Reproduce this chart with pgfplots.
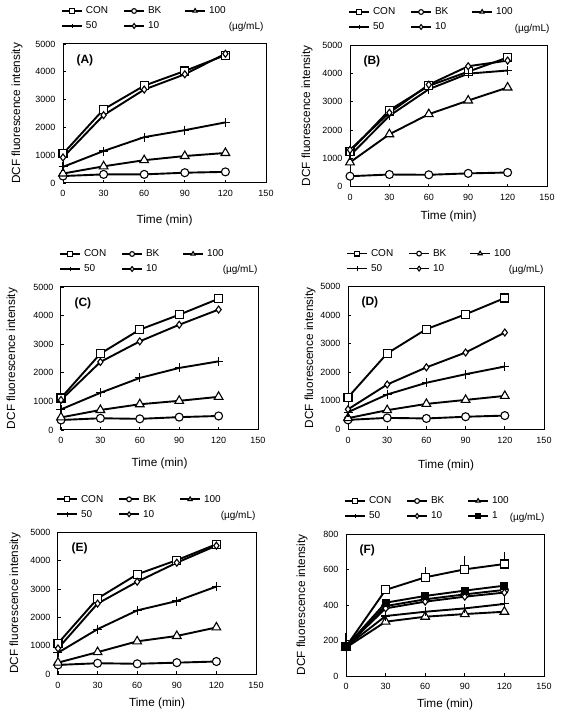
\documentclass[border=0pt]{standalone}
\usepackage{pgfplots}
\pgfplotsset{compat=1.18}
\usepackage{fontspec}
\setmainfont{Liberation Sans}

\pgfplotsset{
  panel/.style={
    scale only axis,
    anchor=south west,
    xmin=0, xmax=150, xtick={0,30,...,150},
    ymin=0,
    axis line style={line width=1pt},
    tick style={line width=0.9pt, black},
    major tick length=3pt,
    xtick pos=left, ytick pos=left,
    tick label style={font=\fontsize{9}{10.5}\selectfont},
    label style={font=\fontsize{11.8}{13.5}\selectfont},
    /pgf/number format/assume math mode=true,
    /pgf/number format/1000 sep={},
    scaled y ticks=false,
    yticklabel style={xshift=-4pt},
    xticklabel style={yshift=-4pt},
    xlabel={Time (min)},
    ylabel={DCF fluorescence intensity},
    clip=false,
  },
  % one legend key: an empty hidden axis whose legend sits at the given point
  legkey/.style={
    hide axis, scale only axis, width=1pt, height=1pt, anchor=south west,
    xmin=0, xmax=1, ymin=0, ymax=1,
    legend columns=1,
    legend style={at={(0,0)}, anchor=west, draw=none, fill=none,
      inner sep=0pt, column sep=0pt, font=\fontsize{10}{12}\selectfont},
    legend image code/.code={\draw[mark repeat=2, mark phase=2, ##1]
      plot coordinates {(0pt,0pt) (10pt,0pt) (20pt,0pt)};},
    legend image post style={mark size=2.4pt, line width=1.8pt},
  },
  big/.style={ymax=5000, ytick={0,1000,...,5000}},
  labshift/.style 2 args={
    xlabel style={at={([yshift=-#1]axis description cs:0.5,0)}, anchor=center},
    ylabel style={at={([xshift=-#2]axis description cs:0,0.5)}, anchor=center},
  },
  con/.style={black, line width=1.9pt, mark=square*, mark size=4pt,
    mark options={solid, fill=white, line width=1.1pt}},
  bk/.style={black, line width=1.9pt, mark=*, mark size=4pt,
    mark options={solid, fill=white, line width=1.1pt}},
  hund/.style={black, line width=1.9pt, mark=triangle*, mark size=5pt,
    mark options={solid, fill=white, line width=1.1pt}},
  fifty/.style={black, line width=1.9pt, mark=+, mark size=4.5pt,
    mark options={solid, line width=1.1pt}},
  ten/.style={black, line width=1.9pt, mark=diamond*, mark size=3.5pt,
    mark options={solid, fill=white, line width=1.1pt}},
  one/.style={black, line width=1.9pt, mark=square*, mark size=3.5pt,
    mark options={solid, fill=black, line width=1.1pt}},
}

% #1,#2: left end and vertical middle of the key; #3: series style; #4: text
\newcommand{\legkey}[4]{%
  \begin{axis}[legkey, at={({#1},{#2})}]
    \addlegendimage{#3}
    \addlegendentry{\hspace*{1pt}\rule[-2pt]{0pt}{9pt}#4}
  \end{axis}}
% the five keys above a panel whose box has left edge #1 and top edge #2
\newcommand{\legendset}[2]{%
  \legkey{#1-2pt}{#2+33pt}{con}{CON}
  \legkey{#1+60pt}{#2+33pt}{bk}{BK}
  \legkey{#1+121pt}{#2+33pt}{hund}{100}
  \legkey{#1-2pt}{#2+18pt}{fifty}{50}
  \legkey{#1+60pt}{#2+18pt}{ten}{10}}
\newcommand{\panellabel}[1]{\node[anchor=west, font=\bfseries\fontsize{12}{14}\selectfont]
  at ([xshift=10pt,yshift=-16pt]axis description cs:0,1) {#1};}
\newcommand{\unitlabel}[1][3pt]{\node[anchor=base east, font=\fontsize{10}{12}\selectfont]
  at ([xshift=#1,yshift=14pt]axis description cs:1,1) {(µg/mL)};}

\begin{document}
\begin{tikzpicture}
\path[use as bounding box] (0,0) rectangle (565pt,710pt);

% (A)
\begin{axis}[panel, big, at={(63pt,527pt)}, width=203pt, height=139pt, labshift={37pt}{46pt}]
\addplot[con]   coordinates {(0,1050)(30,2650)(60,3500)(90,4030)(120,4600)};
\addplot[bk]    coordinates {(0,250)(30,310)(60,310)(90,370)(120,400)};
\addplot[hund]  coordinates {(0,340)(30,600)(60,820)(90,970)(120,1080)};
\addplot[fifty] coordinates {(0,580)(30,1150)(60,1650)(90,1900)(120,2180)};
\addplot[ten]   coordinates {(0,920)(30,2440)(60,3360)(90,3910)(120,4650)};
\panellabel{(A)}
\unitlabel[1pt]
\end{axis}
\legendset{63pt}{666pt}

% (B)
\begin{axis}[panel, big, at={(350pt,523.3pt)}, width=197pt, height=141.7pt, labshift={30pt}{43pt}]
\addplot[con]   coordinates {(0,1250)(30,2700)(60,3560)(90,4060)(120,4560)};
\addplot[bk]    coordinates {(0,370)(30,430)(60,420)(90,470)(120,500)};
\addplot[hund]  coordinates {(0,860)(30,1850)(60,2560)(90,3040)(120,3500)};
\addplot[fifty] coordinates {(0,1100)(30,2500)(60,3440)(90,3990)(120,4100)};
\addplot[ten]   coordinates {(0,1300)(30,2610)(60,3600)(90,4250)(120,4450)};
\panellabel{(B)}
\unitlabel[6pt]
\end{axis}
\legendset{350pt}{665pt}

% (C)
\begin{axis}[panel, big, at={(61pt,280pt)}, width=197pt, height=143pt, labshift={33pt}{49pt}]
\addplot[con]   coordinates {(0,1120)(30,2670)(60,3510)(90,4030)(120,4590)};
\addplot[bk]    coordinates {(0,350)(30,410)(60,390)(90,450)(120,490)};
\addplot[hund]  coordinates {(0,440)(30,700)(60,900)(90,1020)(120,1160)};
\addplot[fifty] coordinates {(0,720)(30,1300)(60,1820)(90,2170)(120,2400)};
\addplot[ten]   coordinates {(0,1050)(30,2380)(60,3100)(90,3680)(120,4210)};
\panellabel{(C)}
\unitlabel[3pt]
\end{axis}
\legendset{61pt}{423pt}

% (D)
\begin{axis}[panel, big, at={(348pt,280.7pt)}, width=196pt, height=142.7pt, labshift={36pt}{38pt}]
\addplot[con]   coordinates {(0,1120)(30,2660)(60,3510)(90,4030)(120,4600)};
\addplot[bk]    coordinates {(0,330)(30,400)(60,380)(90,440)(120,480)};
\addplot[hund]  coordinates {(0,390)(30,670)(60,890)(90,1030)(120,1170)};
\addplot[fifty] coordinates {(0,600)(30,1220)(60,1630)(90,1930)(120,2200)};
\addplot[ten]   coordinates {(0,700)(30,1570)(60,2170)(90,2690)(120,3390)};
\panellabel{(D)}
\unitlabel[3pt]
\end{axis}
\legendset{348pt}{423.4pt}

% (E)
\begin{axis}[panel, big, at={(58pt,35.7pt)}, width=198pt, height=142pt, labshift={29pt}{43pt}]
\addplot[con]   coordinates {(0,1090)(30,2670)(60,3520)(90,4020)(120,4580)};
\addplot[bk]    coordinates {(0,330)(30,390)(60,370)(90,410)(120,450)};
\addplot[hund]  coordinates {(0,410)(30,780)(60,1160)(90,1350)(120,1650)};
\addplot[fifty] coordinates {(0,760)(30,1590)(60,2250)(90,2580)(120,3090)};
\addplot[ten]   coordinates {(0,910)(30,2490)(60,3260)(90,3930)(120,4530)};
\panellabel{(E)}
\unitlabel[3pt]
\end{axis}
\legendset{58pt}{177.7pt}

% (F) with upper error bars where they are shown
\begin{axis}[panel, at={(346pt,34pt)}, width=198pt, height=142pt, labshift={28pt}{44pt},
  ymax=800, ytick={0,200,...,800}]
\addplot[forget plot, draw=none, mark=none,
  error bars/.cd, y dir=plus, y explicit,
  error bar style={draw=black, solid, line width=1.1pt},
  error mark options={draw=black, line width=1.1pt, mark size=3.5pt}]
  coordinates {(0,165) +- (0,57) (60,556) +- (0,37) (90,601) +- (0,58)
               (120,631) +- (0,47) (120,406) +- (0,26)};
\addplot[con]   coordinates {(0,165)(30,485)(60,556)(90,601)(120,631)};
\addplot[bk]    coordinates {(0,165)(30,394)(60,432)(90,460)(120,485)};
\addplot[hund]  coordinates {(0,160)(30,306)(60,334)(90,349)(120,362)};
\addplot[fifty] coordinates {(0,165)(30,338)(60,362)(90,381)(120,406)};
\addplot[ten]   coordinates {(0,165)(30,381)(60,419)(90,447)(120,470)};
\addplot[one]   coordinates {(0,165)(30,413)(60,451)(90,481)(120,509)};
\panellabel{(F)}
\unitlabel[4pt]
\end{axis}
\legendset{346pt}{176pt}
\legkey{346pt+121pt}{176pt+18pt}{one}{1}
\end{tikzpicture}
\end{document}
